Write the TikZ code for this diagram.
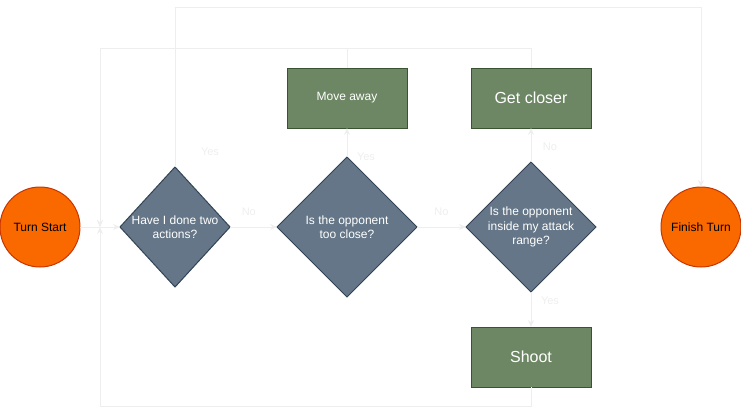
\documentclass[tikz,border=0pt]{standalone}
\usepackage{fontspec}
\setmainfont{Liberation Sans}
\usetikzlibrary{shapes.geometric, arrows.meta, positioning}
\definecolor{turnorange}{RGB}{250,104,0}
\definecolor{turnedge}{RGB}{199,53,0}
\definecolor{askslate}{RGB}{100,118,135}
\definecolor{askedge}{RGB}{49,67,84}
\definecolor{actgreen}{RGB}{109,135,100}
\definecolor{actedge}{RGB}{58,84,49}
\definecolor{linkgray}{RGB}{238,238,238}

\begin{document}
\begin{tikzpicture}[
    x=1pt, y=1pt,
    font=\fontsize{12}{14.4}\selectfont,
    terminal/.style={circle, draw=turnedge, fill=turnorange, line width=1pt, minimum size=80pt, inner sep=0pt, outer sep=0pt, text=black},
    decision/.style={diamond, draw=askedge, fill=askslate, line width=1pt, aspect=1, inner xsep=-4pt, inner ysep=0pt, outer sep=0pt, align=center, text=white},
    block/.style={rectangle, draw=actedge, fill=actgreen, line width=1pt, minimum width=120pt, minimum height=60pt, outer sep=0pt, text=white},
    arrow/.style={-{Stealth[length=7pt, width=6pt]}, line width=1pt, linkgray},
    edgelbl/.style={font=\fontsize{11}{13}\selectfont, text=linkgray, inner sep=0pt}
]
    \useasboundingbox (0,0) rectangle (741,-416);

    % Row: start and checks
    \node[terminal] (start) at (40,-227) {Turn Start};
    \node[decision, minimum width=110pt, minimum height=120pt, right=40pt of start] (twoacts) {Have I done two\\actions?};
    \node[decision, minimum width=140pt, minimum height=140pt, right=47pt of twoacts] (close) {Is the opponent\\too close?};
    \node[decision, minimum width=130pt, minimum height=130pt, right=49pt of close] (range) {Is the opponent\\inside my attack\\range?};
    \node[terminal, right=65pt of range] (finish) {Finish Turn};

    % Actions
    \node[block, above=29pt of close] (away) {Move away};
    \node[block, above=34pt of range, font=\fontsize{16}{19}\selectfont] (closer) {Get closer};
    \node[block, below=35pt of range, font=\fontsize{16}{19}\selectfont] (shoot) {Shoot};

    % Connections
    \coordinate (merge) at (100,-227);
    \draw[arrow] (start) -- (twoacts);
    \draw[arrow] (twoacts) -- node[edgelbl, pos=0.4, yshift=15pt] (no1) {No} (close);
    \draw[arrow] (close) -- node[edgelbl, midway, yshift=15pt] (no2) {No} (range);
    \draw[arrow] (close) -- node[edgelbl, pos=0, xshift=19pt] (yes2) {Yes} (away);
    \draw[arrow] (range) -- node[edgelbl, pos=0, xshift=19pt, yshift=15pt] (no3) {No} (closer);
    \draw[arrow] (range) -- node[edgelbl, pos=0, xshift=19pt, yshift=-9pt] (yes3) {Yes} (shoot);
    \draw[arrow] (twoacts.north) node[edgelbl, xshift=35pt, yshift=15pt] (yes1) {Yes} -- ++(0,160) -| (finish);

    % Loop back
    \draw[arrow] (away.north) -- ++(0,20) -| (merge);
    \draw[arrow] (closer.north) -- ++(0,20) -| (merge);
    \draw[arrow] (shoot.south) -- ++(0,-19) -| (merge);
\end{tikzpicture}
\end{document}
